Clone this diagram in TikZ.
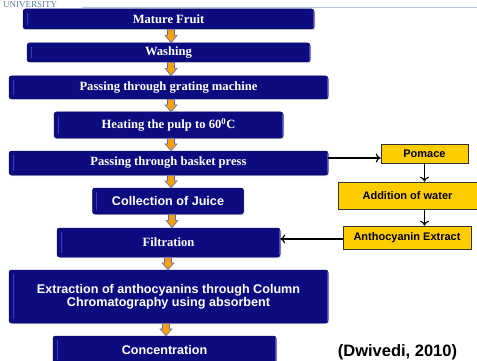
\documentclass[tikz,border=0pt]{standalone}
\usepackage{fontspec}
\setmainfont{Liberation Serif}
\setsansfont{Liberation Sans}
\usetikzlibrary{shadows,arrows.meta,calc}
\definecolor{navy}{RGB}{12,12,128}
\definecolor{navyedge}{RGB}{80,80,210}
\definecolor{oarrfill}{RGB}{246,162,0}
\definecolor{oarredge}{RGB}{90,100,210}
\definecolor{ybox}{RGB}{255,204,0}
\definecolor{unicol}{RGB}{90,125,165}
\definecolor{hline}{RGB}{185,200,220}
\tikzset{
  bluebox/.style={fill=navy, draw=navy!80!black, line width=0.5pt, rounded corners=2.5pt,
    text=white, inner sep=0pt, align=center,
    drop shadow={shadow xshift=1pt, shadow yshift=-1.2pt, opacity=0.3},
    path picture={
      \draw[navyedge, line width=1.8pt] (path picture bounding box.north east) -- (path picture bounding box.south east);
      \draw[navyedge!70!navy, line width=0.9pt] ([xshift=4pt,yshift=-4pt]path picture bounding box.north west) -- ([xshift=4pt,yshift=4pt]path picture bounding box.south west);
    }},
  serift/.style={font=\fontsize{12.6}{14}\selectfont\bfseries},
  sanst/.style={font=\sffamily\bfseries\fontsize{12.6}{13}\selectfont},
  ybox/.style={fill=ybox, draw=black!80, line width=0.6pt, inner sep=0pt,
    font=\sffamily\bfseries\fontsize{11}{12}\selectfont, text=black},
  oarr/.style={fill=oarrfill, draw=oarredge, line width=0.6pt},
  thinarr/.style={draw=black, line width=1.1pt, -{To[length=5pt,width=9pt]}}
}
\newcommand\oarrow[3]{%
  \filldraw[oarr] let \p1=(#1.south), \p2=(#2.north) in
    ({#3pt-3.5pt},\y1) -- ({#3pt+3.5pt},\y1) -- ({#3pt+3.5pt},{\y1+0.45*(\y2-\y1)})
    -- ({#3pt+6pt},{\y1+0.45*(\y2-\y1)}) -- (#3pt,\y2) -- ({#3pt-6pt},{\y1+0.45*(\y2-\y1)})
    -- ({#3pt-3.5pt},{\y1+0.45*(\y2-\y1)}) -- cycle;}
\begin{document}
\begin{tikzpicture}[x=1pt,y=-1pt]
\useasboundingbox[fill=white] (0,0) rectangle (477,361);
% header remnants
\node[anchor=base west, inner sep=0pt, text=unicol, font=\fontsize{9}{9}\selectfont] (uni) at (3,7.5) {UNIVERSITY};
\coordinate (hl1) at (82,7.5);
\coordinate (hl2) at (477,7.5);
\draw[hline, line width=0.8pt] (hl1) -- (hl2);
% main flow
\node[bluebox, serift, minimum width=291pt, minimum height=20pt] (b1) at (168.5,19) {Mature Fruit};
\node[bluebox, serift, minimum width=283pt, minimum height=19pt] (b2) at (168.5,52.5) {Washing};
\node[bluebox, serift, minimum width=319pt, minimum height=23pt] (b3) at (168.5,87.5) {Passing through grating machine};
\node[bluebox, serift, minimum width=229pt, minimum height=26pt] (b4) at (168.5,125) {Heating the pulp to 60\textsuperscript{0}C};
\node[bluebox, serift, minimum width=319pt, minimum height=24pt] (b5) at (168.5,163) {Passing through basket press};
\node[bluebox, sanst, minimum width=151pt, minimum height=26pt] (b6) at (168,201) {Collection of Juice};
\node[bluebox, serift, minimum width=223pt, minimum height=29pt] (b7) at (168.5,242.5) {Filtration};
\node[bluebox, sanst, minimum width=319pt, minimum height=53pt] (b8) at (168.5,296.5) {Extraction of anthocyanins through Column\\Chromatography using absorbent};
\node[bluebox, sanst, minimum width=223pt, minimum height=28pt] (b9) at (164.5,350) {Concentration};
% orange block arrows
\oarrow{b1}{b2}{171}
\oarrow{b2}{b3}{171}
\oarrow{b3}{b4}{171}
\oarrow{b4}{b5}{171}
\oarrow{b5}{b6}{171}
\oarrow{b6}{b7}{172}
\oarrow{b7}{b8}{168}
\oarrow{b8}{b9}{166}
% side branch
\node[ybox, minimum width=87pt, minimum height=19pt] (y1) at (424.5,153.5) {Pomace};
\node[ybox, minimum width=139pt, minimum height=27pt] (y2) at (407.5,195.5) {Addition of water};
\node[ybox, minimum width=128pt, minimum height=23pt] (y3) at (407,237.5) {Anthocyanin Extract};
\draw[thinarr] ([yshift=5pt]b5.east) -- ([yshift=5pt]b5.east -| y1.west);
\draw[thinarr] (y1.south) -- (y1.south |- y2.north);
\draw[thinarr] (y1.south |- y2.south) -- (y1.south |- y3.north);
\draw[thinarr] ([yshift=-1.5pt]y3.west) -- ([yshift=-1.5pt]y3.west -| b7.east);
% citation
\node[anchor=base, inner sep=0pt, font=\sffamily\bfseries\fontsize{16.5}{17}\selectfont] (cite) at (397.5,356) {(Dwivedi, 2010)};
\end{tikzpicture}
\end{document}
